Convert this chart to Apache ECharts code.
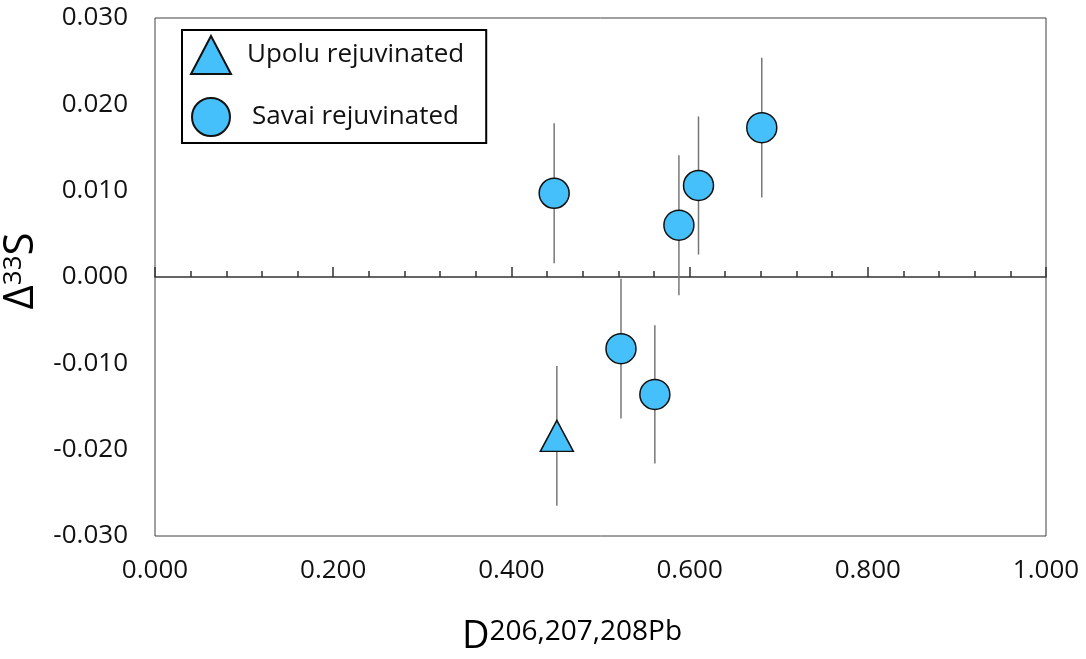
<!DOCTYPE html>
<html>
<head>
<meta charset="utf-8">
<script src="https://cdn.jsdelivr.net/npm/echarts@6/dist/echarts.min.js"></script>
<style>
  html, body { margin: 0; padding: 0; background: #fff; }
  #main { width: 1086px; height: 659px; }
</style>
</head>
<body>
<div id="main"></div>
<script>
// data
var upoluX = [0.451];
var upoluY = [-0.0184];
var upoluErr = [0.0081];

var savaiX = [0.448, 0.523, 0.561, 0.588, 0.610, 0.681];
var savaiY = [0.0097, -0.0083, -0.0136, 0.0060, 0.0106, 0.0173];
var savaiErr = [0.0081, 0.0081, 0.0080, 0.0081, 0.0080, 0.0081];

var xMin = 0, xMax = 1, xStep = 0.2;
var yMin = -0.03, yMax = 0.03, yStep = 0.01;

var FONT = 'Open Sans';
var FILL = '#45C0FA';

function points(xs, ys) {
    return xs.map(function (x, i) { return [x, ys[i]]; });
}
function bars(xs, ys, es) {
    return xs.map(function (x, i) { return [x, ys[i] - es[i], ys[i] + es[i]]; });
}

var errData = bars(upoluX, upoluY, upoluErr).concat(bars(savaiX, savaiY, savaiErr));

var chart = echarts.init(document.getElementById('main'));
chart.setOption({
    animation: false,
    grid: {
        left: 155,
        right: 40,
        top: 18,
        bottom: 123,
        show: true,
        borderColor: '#404040',
        borderWidth: 1,
        containLabel: false,
        outerBoundsMode: 'none'
    },
    legend: {
        orient: 'vertical',
        left: 182,
        top: 30,
        padding: [5, 22, 6, 8],
        itemGap: 22,
        itemWidth: 40,
        itemHeight: 38,
        borderColor: '#000',
        borderWidth: 2,
        backgroundColor: '#fff',
        data: [
            { name: 'Upolu rejuvinated', textStyle: { padding: [4, 0, 0, 11] } },
            { name: 'Savai rejuvinated', textStyle: { padding: [0, 0, 16, 16] } }
        ],
        textStyle: {
            fontFamily: FONT,
            fontSize: 26,
            color: '#111'
        }
    },
    xAxis: [
        {
            type: 'value',
            min: xMin,
            max: xMax,
            interval: xStep,
            position: 'bottom',
            axisLine: { show: false, onZero: false },
            axisTick: { show: false },
            splitLine: { show: false },
            axisLabel: {
                margin: 22,
                fontFamily: FONT,
                fontSize: 26,
                color: '#111',
                formatter: function (v) { return v.toFixed(3); }
            },
            name: '{d|D}{sup|206,207,208Pb}',
            nameLocation: 'middle',
            nameGap: 82,
            nameTextStyle: {
                padding: [0, 57, 0, 0],
                rich: {
                    d: { fontFamily: FONT, fontSize: 38, color: '#000' },
                    sup: { fontFamily: FONT, fontSize: 28, color: '#000', verticalAlign: 'top' }
                }
            }
        },
        {
            type: 'value',
            min: xMin,
            max: xMax,
            interval: xStep,
            position: 'bottom',
            axisLine: { show: true, onZero: true, lineStyle: { color: '#333', width: 1.5 } },
            axisTick: { show: true, inside: true, length: 10, lineStyle: { color: '#333', width: 1.5 } },
            minorTick: { show: true, splitNumber: 5, length: 6, lineStyle: { color: '#333', width: 1.5 } },
            axisLabel: { show: false },
            splitLine: { show: false }
        }
    ],
    yAxis: {
        type: 'value',
        min: yMin,
        max: yMax,
        interval: yStep,
        axisLine: { show: false },
        axisTick: { show: false },
        splitLine: { show: false },
        axisLabel: {
            margin: 27,
            fontFamily: FONT,
            fontSize: 26,
            color: '#111',
            formatter: function (v) { return v.toFixed(3); }
        },
        name: '{d|Δ}{sup|33}{d|S}',
        nameLocation: 'middle',
        nameRotate: 90,
        nameGap: 104,
        nameTextStyle: {
            padding: [0, 0, 0, 12],
            rich: {
                d: { fontFamily: FONT, fontSize: 42, color: '#000' },
                sup: { fontFamily: FONT, fontSize: 26, color: '#000', verticalAlign: 'top' }
            }
        }
    },
    series: [
        {
            name: 'errors',
            type: 'custom',
            z: 1,
            data: errData,
            encode: { x: 0, y: [1, 2] },
            renderItem: function (params, api) {
                var lo = api.coord([api.value(0), api.value(1)]);
                var hi = api.coord([api.value(0), api.value(2)]);
                return {
                    type: 'line',
                    shape: { x1: lo[0], y1: lo[1], x2: hi[0], y2: hi[1] },
                    style: { stroke: '#777', lineWidth: 1.5 }
                };
            }
        },
        {
            name: 'Upolu rejuvinated',
            type: 'scatter',
            z: 3,
            symbol: 'triangle',
            symbolSize: [33, 31],
            itemStyle: { color: FILL, borderColor: '#111', borderWidth: 1.5, opacity: 1 },
            data: points(upoluX, upoluY)
        },
        {
            name: 'Savai rejuvinated',
            type: 'scatter',
            z: 3,
            symbol: 'circle',
            symbolSize: 30,
            itemStyle: { color: FILL, borderColor: '#111', borderWidth: 1.5, opacity: 1 },
            data: points(savaiX, savaiY)
        }
    ]
});
</script>
</body>
</html>
